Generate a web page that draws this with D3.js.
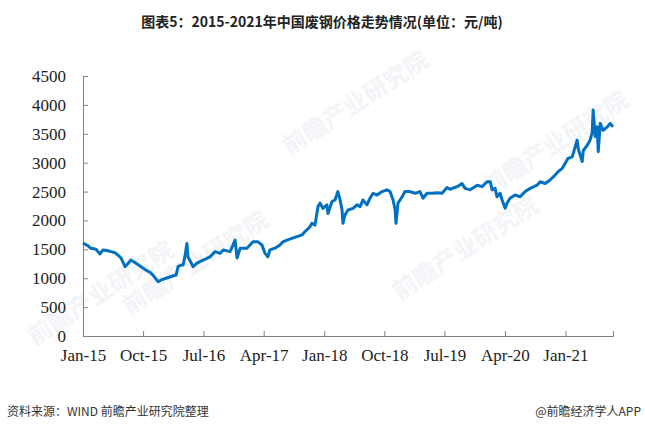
<!DOCTYPE html>
<html>
<head>
<meta charset="utf-8">
<script src="https://cdn.jsdelivr.net/npm/d3@7"></script>
<style>
  body { margin: 0; background: #fff; }
  svg { display: block; }
</style>
</head>
<body>
<svg id="chart" width="645" height="424"></svg>
<script>
// scrap steel price, yuan/ton
var dates = [
  "2015-01-01","2015-01-24","2015-02-06","2015-03-01","2015-03-10","2015-03-19","2015-04-02","2015-04-20",
  "2015-05-08","2015-05-27","2015-06-09","2015-06-23","2015-07-11","2015-07-25","2015-08-07","2015-08-30",
  "2015-09-22","2015-10-14","2015-11-02","2015-11-15","2015-12-08","2015-12-22","2016-01-13","2016-02-05",
  "2016-02-28","2016-03-08","2016-03-22","2016-03-31","2016-04-09","2016-04-17","2016-04-22","2016-05-15",
  "2016-06-02","2016-06-30","2016-07-31","2016-08-23","2016-09-15","2016-09-29","2016-10-30","2016-11-22",
  "2016-12-01","2016-12-15","2017-01-15","2017-02-11","2017-03-06","2017-03-24","2017-04-07","2017-04-20",
  "2017-04-29","2017-05-22","2017-06-14","2017-06-27","2017-07-16","2017-08-07","2017-08-30","2017-09-22",
  "2017-10-05","2017-10-28","2017-11-06","2017-11-20","2017-12-04","2017-12-13","2017-12-26","2018-01-13",
  "2018-01-18","2018-02-05","2018-02-19","2018-03-04","2018-03-14","2018-03-23","2018-03-27","2018-04-05",
  "2018-04-19","2018-05-12","2018-05-30","2018-06-13","2018-06-26","2018-07-14","2018-07-28","2018-08-11",
  "2018-08-29","2018-09-21","2018-10-13","2018-10-27","2018-11-10","2018-11-19","2018-11-23","2018-12-02",
  "2018-12-21","2019-01-03","2019-01-26","2019-02-18","2019-03-12","2019-03-26","2019-04-13","2019-05-06",
  "2019-05-29","2019-06-20","2019-07-13","2019-07-27","2019-08-28","2019-09-19","2019-10-03","2019-10-26",
  "2019-11-27","2019-12-19","2020-01-11","2020-01-25","2020-02-03","2020-02-16","2020-02-25","2020-03-10",
  "2020-03-19","2020-04-02","2020-04-11","2020-04-24","2020-05-17","2020-06-09","2020-07-02","2020-07-25",
  "2020-08-25","2020-09-08","2020-10-01","2020-10-23","2020-11-15","2020-11-29","2020-12-17","2020-12-31",
  "2021-01-13","2021-02-01","2021-02-23","2021-02-28","2021-03-18","2021-03-23","2021-04-10","2021-04-23",
  "2021-05-02","2021-05-07","2021-05-16","2021-05-25","2021-05-30","2021-06-08","2021-06-21","2021-07-10",
  "2021-07-23","2021-08-05"
];
var prices = [
  1610,1560,1518,1500,1460,1420,1490,1480,
  1460,1440,1400,1350,1200,1260,1315,1260,
  1200,1140,1100,1055,940,970,1000,1030,
  1055,1200,1230,1230,1400,1600,1370,1200,
  1260,1315,1370,1460,1430,1490,1460,1660,
  1350,1520,1520,1630,1630,1575,1430,1370,
  1490,1520,1575,1630,1660,1690,1720,1750,
  1805,1890,1950,1920,2240,2300,2210,2270,
  2120,2325,2355,2500,2355,2180,1950,2095,
  2180,2210,2270,2240,2355,2270,2385,2470,
  2440,2500,2530,2500,2355,2180,1950,2300,
  2410,2500,2500,2470,2500,2385,2470,2470,
  2480,2470,2570,2540,2585,2640,2555,2530,
  2610,2585,2670,2670,2530,2555,2410,2470,
  2355,2210,2300,2385,2440,2410,2500,2555,
  2610,2670,2640,2700,2785,2845,2900,2990,
  3075,3100,3390,3240,3020,3210,3300,3390,
  3510,3910,3450,3620,3190,3680,3560,3620,
  3680,3620
];
var xTickLabels = ["Jan-15","Oct-15","Jul-16","Apr-17","Jan-18","Oct-18","Jul-19","Apr-20","Jan-21"];
var yTicks = [0,500,1000,1500,2000,2500,3000,3500,4000,4500];

var svg = d3.select("#chart");
var parseDay = d3.timeParse("%Y-%m-%d");
var parseTick = d3.timeParse("%b-%y");

var x = d3.scaleTime()
  .domain([parseDay("2015-01-01"), parseDay("2021-08-05")])
  .range([83, 613]);
var y = d3.scaleLinear().domain([0, 4500]).range([336, 76]);

// faint watermarks
var marks = [[105, 300], [200, 270], [360, 110], [560, 150], [470, 255]];
svg.append("g").selectAll("text").data(marks).join("text")
  .attr("transform", function(d) { return "translate(" + d[0] + "," + d[1] + ") rotate(-33)"; })
  .attr("text-anchor", "middle")
  .style("font-family", "'Noto Sans CJK SC', sans-serif")
  .style("font-size", "24px")
  .style("font-weight", "bold")
  .style("fill", "#f2f4f7")
  .text("前瞻产业研究院");

// title
svg.append("text")
  .attr("x", 322).attr("y", 27)
  .attr("text-anchor", "middle")
  .style("font-family", "'Noto Sans CJK SC', sans-serif")
  .style("font-size", "14px")
  .style("font-weight", "bold")
  .style("fill", "#222")
  .text("图表5：2015-2021年中国废钢价格走势情况(单位：元/吨)");

// axes
var yAxis = d3.axisLeft(y).tickValues(yTicks).tickSize(-5).tickPadding(17).tickFormat(d3.format("d"));
var gy = svg.append("g").attr("transform", "translate(83,0)").call(yAxis);

var xAxis = d3.axisBottom(x)
  .tickValues(xTickLabels.map(function(s) { return parseTick(s); }))
  .tickSize(-5).tickPadding(13)
  .tickFormat(function(d, i) { return xTickLabels[i]; });
var gx = svg.append("g").attr("transform", "translate(0,336)").call(xAxis);

[gx, gy].forEach(function(g) {
  g.select(".domain").attr("stroke", "#808080");
  g.selectAll(".tick line").attr("stroke", "#808080");
  g.selectAll(".tick text")
    .style("font-family", "'Liberation Serif', 'Times New Roman', serif")
    .style("font-size", "17px")
    .style("fill", "#222");
});

// price line
var series = dates.map(function(d, i) { return { date: parseDay(d), value: prices[i] }; });
var line = d3.line()
  .x(function(d) { return x(d.date); })
  .y(function(d) { return y(d.value); });
svg.append("path")
  .datum(series)
  .attr("d", line)
  .attr("fill", "none")
  .attr("stroke", "#0070c0")
  .attr("stroke-width", 3)
  .attr("stroke-linejoin", "round");

// footer
svg.append("text")
  .attr("x", 7).attr("y", 416)
  .style("font-family", "'Noto Sans CJK SC', sans-serif")
  .style("font-size", "12px")
  .style("fill", "#333")
  .text("资料来源：WIND 前瞻产业研究院整理");
svg.append("text")
  .attr("x", 641).attr("y", 416)
  .attr("text-anchor", "end")
  .style("font-family", "'Noto Sans CJK SC', sans-serif")
  .style("font-size", "12px")
  .style("fill", "#333")
  .text("@前瞻经济学人APP");
</script>
</body>
</html>
